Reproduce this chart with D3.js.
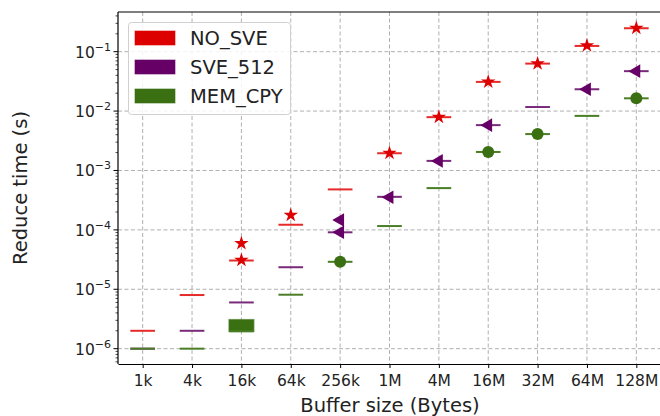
<!DOCTYPE html>
<html>
<head>
<meta charset="utf-8">
<script src="https://cdn.jsdelivr.net/npm/d3@7"></script>
<style>
  body { margin: 0; background: #fff; }
  text { font-family: "DejaVu Sans", sans-serif; fill: #222; }
</style>
</head>
<body>
<svg width="660" height="416"></svg>
<script>
const width = 660;
const height = 416;

const categories = ['1k', '4k', '16k', '64k', '256k', '1M', '4M', '16M', '32M', '64M', '128M'];
const seriesNames = ['NO_SVE', 'SVE_512', 'MEM_CPY'];
const seriesColors = ['#dd0000', '#660066', '#3a7012'];
const lineColors = ['#e62a2a', '#7a2a7a', '#4a7e26'];
const yTicks = [1e-6, 1e-5, 1e-4, 1e-3, 1e-2, 1e-1];

// box bottom / top for each size (most boxes collapse to one line)
const noSveLow  = [2e-6, 8e-6, 3.05e-5, 1.22e-4, 4.8e-4, 1.95e-3, 7.9e-3, 3.1e-2, 6.3e-2, 0.125, 0.248];
const noSveHigh = noSveLow;
const noSveFliers = [[], [], [3.1e-5, 5.95e-5], [1.78e-4], [], [1.97e-3], [7.9e-3], [3.1e-2], [6.3e-2], [0.126], [0.25]];

const sveLow  = [1e-6, 2e-6, 6e-6, 2.35e-5, 9.1e-5, 3.6e-4, 1.45e-3, 5.8e-3, 1.17e-2, 2.33e-2, 4.7e-2];
const sveHigh = sveLow;
const sveFliers = [[], [], [], [], [9.1e-5, 1.47e-4], [3.55e-4], [1.45e-3], [5.8e-3], [], [2.33e-2], [4.7e-2]];

const memLow  = [1e-6, 1e-6, 1.96e-6, 8.1e-6, 2.9e-5, 1.16e-4, 5.05e-4, 2.05e-3, 4.1e-3, 8.3e-3, 1.64e-2];
const memHigh = [1e-6, 1e-6, 3.08e-6, 8.1e-6, 2.9e-5, 1.16e-4, 5.05e-4, 2.05e-3, 4.1e-3, 8.3e-3, 1.64e-2];
const memFliers = [[], [], [], [], [2.9e-5], [], [], [2.05e-3], [4.1e-3], [], [1.64e-2]];

const margin = { left: 118, right: 661, top: 12, bottom: 364 };

const svg = d3.select('svg');

const x = d3.scaleLinear()
  .domain([0.5, 11.5])
  .range([margin.left, margin.right]);

const y = d3.scaleLog()
  .domain([Math.pow(10, -6.258), Math.pow(10, -0.332)])
  .range([margin.bottom, margin.top]);

// grid
const grid = svg.append('g')
  .attr('stroke', '#b0b0b0')
  .attr('stroke-width', 1)
  .attr('stroke-dasharray', '4,2.5');

grid.selectAll('.gx')
  .data(categories)
  .enter()
  .append('line')
  .attr('x1', (d, i) => x(i + 1))
  .attr('x2', (d, i) => x(i + 1))
  .attr('y1', margin.top)
  .attr('y2', margin.bottom);

grid.selectAll('.gy')
  .data(yTicks)
  .enter()
  .append('line')
  .attr('x1', margin.left)
  .attr('x2', margin.right)
  .attr('y1', d => y(d))
  .attr('y2', d => y(d));

// boxes + fliers
const boxW = x(1.25) - x(1);
const series = [
  { low: noSveLow, high: noSveHigh, fliers: noSveFliers, symbol: 'star' },
  { low: sveLow, high: sveHigh, fliers: sveFliers, symbol: 'tri' },
  { low: memLow, high: memHigh, fliers: memFliers, symbol: 'circle' }
];

const star = d3.symbol().type(d3.symbolStar).size(65)();
const tri = d3.symbol().type(d3.symbolTriangle).size(80)();

series.forEach((s, k) => {
  const color = seriesColors[k];
  const g = svg.append('g');

  g.selectAll('rect')
    .data(categories.filter((d, i) => s.high[i] > s.low[i]))
    .enter()
    .append('rect')
    .attr('x', d => x(categories.indexOf(d) + 1) - boxW)
    .attr('width', boxW * 2)
    .attr('y', d => y(s.high[categories.indexOf(d)]))
    .attr('height', d => y(s.low[categories.indexOf(d)]) - y(s.high[categories.indexOf(d)]))
    .attr('fill', color)
    .attr('stroke', color)
    .attr('stroke-opacity', 0.6)
    .attr('stroke-width', 1.5);

  g.selectAll('line')
    .data(categories)
    .enter()
    .append('line')
    .attr('x1', (d, i) => x(i + 1) - boxW)
    .attr('x2', (d, i) => x(i + 1) + boxW)
    .attr('y1', (d, i) => y(s.low[i]))
    .attr('y2', (d, i) => y(s.low[i]))
    .attr('stroke', lineColors[k])
    .attr('stroke-width', 2);

  const pts = [];
  s.fliers.forEach((arr, i) => arr.forEach(v => pts.push({ i, v })));

  if (s.symbol === 'circle') {
    g.selectAll('circle')
      .data(pts)
      .enter()
      .append('circle')
      .attr('cx', d => x(d.i + 1))
      .attr('cy', d => y(d.v))
      .attr('r', 6)
      .attr('fill', color);
  } else {
    g.selectAll('path')
      .data(pts)
      .enter()
      .append('path')
      .attr('d', s.symbol === 'star' ? star : tri)
      .attr('transform', d => `translate(${x(d.i + 1)},${y(d.v)})` + (s.symbol === 'tri' ? ' rotate(-90)' : ''))
      .attr('fill', color);
  }
});

// axes
const xAxis = d3.axisBottom(x)
  .tickValues(d3.range(1, 12))
  .tickFormat(d => categories[d - 1])
  .tickSize(4)
  .tickSizeOuter(0);

svg.append('g')
  .attr('transform', `translate(0,${margin.bottom})`)
  .call(xAxis)
  .call(g => g.select('.domain').attr('stroke', '#000').attr('stroke-width', 1.2))
  .call(g => g.selectAll('.tick text').attr('font-size', 15.5).attr('dy', '0.95em').attr('fill', '#222'));

const minorTicks = [];
for (let e = -7; e <= 0; e++) {
  for (let m = 2; m <= 9; m++) {
    const v = m * Math.pow(10, e);
    if (v >= y.domain()[0] && v <= y.domain()[1]) minorTicks.push(v);
  }
}

const yAxis = svg.append('g');
yAxis.append('line')
  .attr('x1', margin.left).attr('x2', margin.left)
  .attr('y1', margin.top).attr('y2', margin.bottom)
  .attr('stroke', '#000').attr('stroke-width', 1.2);

yAxis.selectAll('.minor')
  .data(minorTicks)
  .enter()
  .append('line')
  .attr('x1', margin.left - 2.5).attr('x2', margin.left)
  .attr('y1', d => y(d)).attr('y2', d => y(d))
  .attr('stroke', '#000').attr('stroke-width', 0.7);

yAxis.selectAll('.major')
  .data(yTicks)
  .enter()
  .append('line')
  .attr('x1', margin.left - 4.5).attr('x2', margin.left)
  .attr('y1', d => y(d)).attr('y2', d => y(d))
  .attr('stroke', '#000').attr('stroke-width', 1);

const ylab = yAxis.selectAll('.lab')
  .data(yTicks)
  .enter()
  .append('text')
  .attr('x', margin.left - 7)
  .attr('y', d => y(d) + 6)
  .attr('text-anchor', 'end')
  .attr('font-size', 15.5);
ylab.append('tspan').text('10');
ylab.append('tspan')
  .attr('dy', -7)
  .attr('font-size', 11)
  .text(d => '\u2212' + Math.round(-Math.log10(d)));

// top spine
svg.append('line')
  .attr('x1', margin.left).attr('x2', margin.right)
  .attr('y1', margin.top).attr('y2', margin.top)
  .attr('stroke', '#000').attr('stroke-width', 1.2);

// axis titles
svg.append('text')
  .attr('x', 390)
  .attr('y', 412)
  .attr('text-anchor', 'middle')
  .attr('font-size', 19.5)
  .text('Buffer size (Bytes)');

svg.append('text')
  .attr('transform', `translate(27,${(margin.top + margin.bottom) / 2}) rotate(-90)`)
  .attr('text-anchor', 'middle')
  .attr('font-size', 19.5)
  .text('Reduce time (s)');

// legend
const legend = svg.append('g');
legend.append('rect')
  .attr('x', 128.5).attr('y', 22.5)
  .attr('width', 162).attr('height', 92)
  .attr('rx', 3)
  .attr('fill', '#fff').attr('fill-opacity', 0.85)
  .attr('stroke', '#d0d0d0');

const items = legend.selectAll('.item')
  .data(seriesNames)
  .enter()
  .append('g')
  .attr('transform', (d, i) => `translate(135,${38 + i * 29})`);

items.append('rect')
  .attr('x', 0).attr('y', -7)
  .attr('width', 40).attr('height', 14)
  .attr('fill', (d, i) => seriesColors[i])
  .attr('stroke', (d, i) => seriesColors[i])
  .attr('stroke-opacity', 0.6);

items.append('text')
  .attr('x', 55)
  .attr('y', 7)
  .attr('font-size', 19.5)
  .text(d => d);
</script>
</body>
</html>
